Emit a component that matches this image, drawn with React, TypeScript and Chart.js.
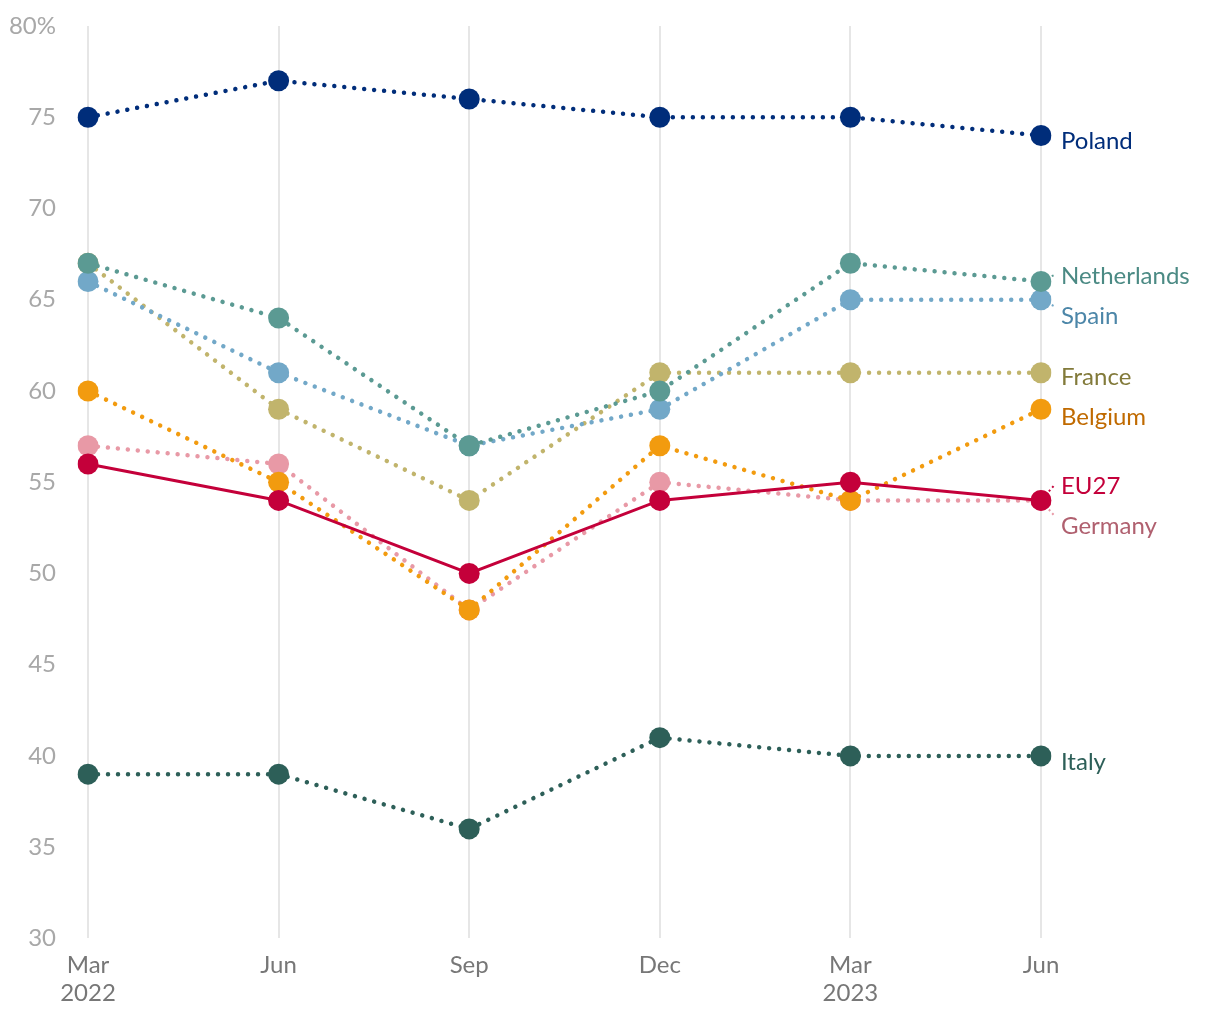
import React, { useEffect, useRef } from "react";
import { Chart, registerables } from "chart.js";

Chart.register(...registerables);

const categories: string[][] = [["Mar", "2022"], ["Jun"], ["Sep"], ["Dec"], ["Mar", "2023"], ["Jun"]];
const yTicks = [30, 35, 40, 45, 50, 55, 60, 65, 70, 75, 80];

const seriesNames = ["EU27", "Belgium", "Netherlands", "Poland", "Italy", "Spain", "France", "Germany"];
const eu27 = [56, 54, 50, 54, 55, 54];
const belgium = [60, 55, 48, 57, 54, 59];
const netherlands = [67, 64, 57, 60, 67, 66];
const poland = [75, 77, 76, 75, 75, 74];
const italy = [39, 39, 36, 41, 40, 40];
const spain = [66, 61, 57, 59, 65, 65];
const france = [67, 59, 54, 61, 61, 61];
const germany = [57, 56, 48, 55, 54, 54];
const seriesValues = [eu27, belgium, netherlands, poland, italy, spain, france, germany];

const lineColors = ["#c4003a", "#f29b0f", "#5b9a93", "#002d7a", "#2d5f58", "#72a8c8", "#c1b46c", "#e899a6"];
const labelColors = ["#c4003a", "#c06a00", "#4b8a84", "#002d7a", "#2d5f58", "#4c86a8", "#827a3a", "#b0606f"];
const solidSeries = ["EU27"];

const FONT = "Lato, 'Noto Sans', sans-serif";

const endLabelsPlugin = {
  id: "endLabels",
  afterDatasetsDraw(chart: any) {
    const ctx = chart.ctx;
    const items: any[] = [];
    chart.data.datasets.forEach((ds: any, i: number) => {
      const meta = chart.getDatasetMeta(i);
      const pt = meta.data[meta.data.length - 1];
      items.push({ i, name: ds.label, px: pt.x, py: pt.y, y: pt.y + 6 });
    });
    const gap = 40;
    items.sort((a, b) => a.y - b.y);
    for (let iter = 0; iter < 50; iter++) {
      let moved = false;
      for (let k = 0; k < items.length - 1; k++) {
        const a = items[k];
        const b = items[k + 1];
        const d = b.y - a.y;
        if (d < gap - 0.01) {
          const push = (gap - d) / 2;
          a.y -= push;
          b.y += push;
          moved = true;
        }
      }
      if (!moved) break;
    }
    ctx.save();
    ctx.font = `24px ${FONT}`;
    ctx.textBaseline = "middle";
    ctx.textAlign = "left";
    items.forEach((it) => {
      const lx = it.px + 20;
      const dy = it.y - 6 - it.py;
      if (Math.abs(dy) > 3) {
        const tx = lx - 6;
        const ty = it.y - (dy > 0 ? 10 : 2);
        const vx = tx - it.px;
        const vy = ty - it.py;
        const len = Math.sqrt(vx * vx + vy * vy);
        const sx = it.px + (vx / len) * 12;
        const sy = it.py + (vy / len) * 12;
        ctx.beginPath();
        ctx.strokeStyle = lineColors[it.i];
        ctx.lineWidth = 2;
        ctx.setLineDash([2, 3]);
        ctx.moveTo(sx, sy);
        ctx.lineTo(tx, ty);
        ctx.stroke();
        ctx.setLineDash([]);
      }
      ctx.fillStyle = labelColors[it.i];
      ctx.fillText(it.name, lx, it.y);
    });
    ctx.restore();
  },
};

export default function App() {
  const ref = useRef<HTMLCanvasElement>(null);
  useEffect(() => {
    document.body.style.margin = "0";
    const datasets = seriesNames.map((name, i) => {
      const solid = solidSeries.includes(name);
      return {
        label: name,
        data: seriesValues[i],
        borderColor: lineColors[i],
        backgroundColor: lineColors[i],
        pointBackgroundColor: lineColors[i],
        pointBorderWidth: 0,
        pointRadius: 10.5,
        pointHoverRadius: 10.5,
        borderWidth: solid ? 3 : 4.5,
        borderDash: solid ? [] : [0.001, 10],
        borderCapStyle: solid ? "butt" : "round",
        tension: 0,
        fill: false,
      };
    });
    const chart = new Chart(ref.current as HTMLCanvasElement, {
      type: "line",
      data: { labels: categories, datasets: datasets as any },
      plugins: [endLabelsPlugin],
      options: {
        animation: false,
        responsive: false,
        events: [],
        layout: { padding: { top: 26, right: 179, bottom: 0, left: 0 } },
        plugins: { legend: { display: false }, tooltip: { enabled: false } },
        scales: {
          x: {
            offset: false,
            grid: { display: true, color: "#e6e6e6", lineWidth: 2, drawTicks: false },
            border: { display: false },
            ticks: {
              color: "#777777",
              font: { family: FONT, size: 24 },
              padding: 12,
              maxRotation: 0,
              autoSkip: false,
            },
          },
          y: {
            min: 30,
            max: 80,
            afterBuildTicks: (scale: any) => {
              scale.ticks = yTicks.map((v) => ({ value: v }));
            },
            afterFit: (scale: any) => {
              scale.width = 88;
              scale.paddingTop = 0;
              scale.paddingBottom = 0;
            },
            grid: { display: false, drawTicks: false },
            border: { display: false },
            ticks: {
              color: "#a8a8a8",
              font: { family: FONT, size: 24 },
              padding: 32,
              callback: (v: any) => (v === 80 ? "80%" : String(v)),
            },
          },
        },
      },
    });
    return () => chart.destroy();
  }, []);
  return (
    <div style={{ width: 1220, height: 1020 }}>
      <canvas ref={ref} width={1220} height={1020} />
    </div>
  );
}
